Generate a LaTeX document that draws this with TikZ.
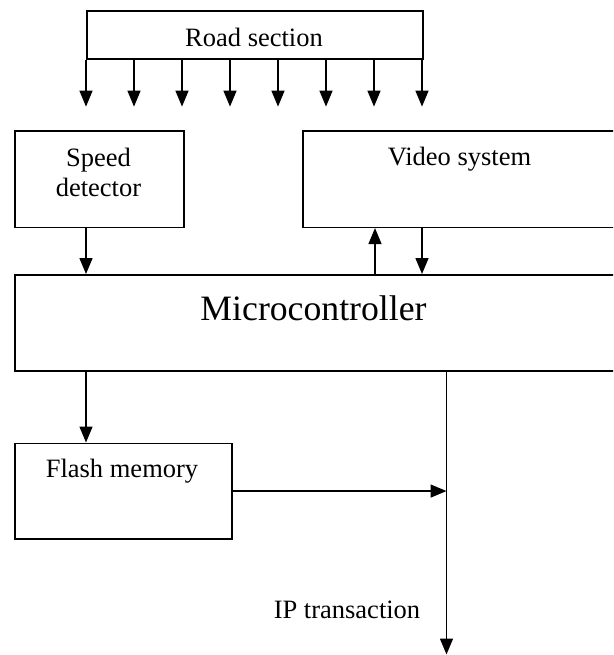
\documentclass[tikz,border=0pt]{standalone}
\usepackage{fontspec}
\setmainfont{Liberation Serif}
\usetikzlibrary{arrows.meta}

\tikzset{
    blockbox/.style={draw, line width=1.6pt, inner sep=0pt, anchor=north west},
    lbl/.style={anchor=base, inner sep=0pt, align=center, font=\fontsize{26.5}{29}\selectfont},
    sig/.style={line width=1.5pt, -{Triangle[length=16pt,width=13pt]}}
}

\begin{document}
\begin{tikzpicture}[x=1pt, y=-1pt]
    % Page frame (boxes run past the right edge)
    \clip (0,0) rectangle (613,655);

    % Blocks
    \node[blockbox, minimum width=336pt, minimum height=48pt] (road) at (86,10) {};
    \node[blockbox, minimum width=169pt, minimum height=96.5pt] (speed) at (14,130) {};
    \node[blockbox, minimum width=348pt, minimum height=96.5pt] (video) at (302,130) {};
    \node[blockbox, minimum width=636pt, minimum height=96pt] (micro) at (14,274) {};
    \node[blockbox, minimum width=217pt, minimum height=95.5pt] (flash) at (14,442.5) {};

    % Labels
    \node[lbl] (roadtxt) at (254,47) {Road section};
    \node[lbl] (speedtxt) at (98.5,196) {Speed\\detector};
    \node[lbl] (videotxt) at (459.5,165) {Video system};
    \node[lbl, font=\fontsize{35.7}{40}\selectfont] (microtxt) at (313.5,320) {Microcontroller};
    \node[lbl] (flashtxt) at (122,477) {Flash memory};
    \node[lbl] (iptxt) at (347,618) {IP transaction};

    % Road section outputs
    \foreach \i in {0,...,7}
        \draw[sig] ([xshift=\i*48pt]road.south west) -- ++(0,47);

    % Speed detector and video system
    \draw[sig] (speed.south -| road.south west) -- (micro.north -| road.south west);
    \draw[sig] ([xshift=73pt]micro.north -| video.south west) -- ([xshift=73pt]video.south west);
    \draw[sig] ([xshift=120pt]video.south west) -- ([xshift=120pt]micro.north -| video.south west);

    % Memory and IP output
    \coordinate (iptop) at (micro.south -| 446.5,0);
    \coordinate (ipend) at (446.5,654.5);
    \draw[sig] (micro.south -| road.south west) -- (flash.north -| road.south west);
    \draw[sig] (iptop) -- (ipend);
    \draw[sig] (flash.east) -- (flash.east -| iptop);
\end{tikzpicture}
\end{document}
